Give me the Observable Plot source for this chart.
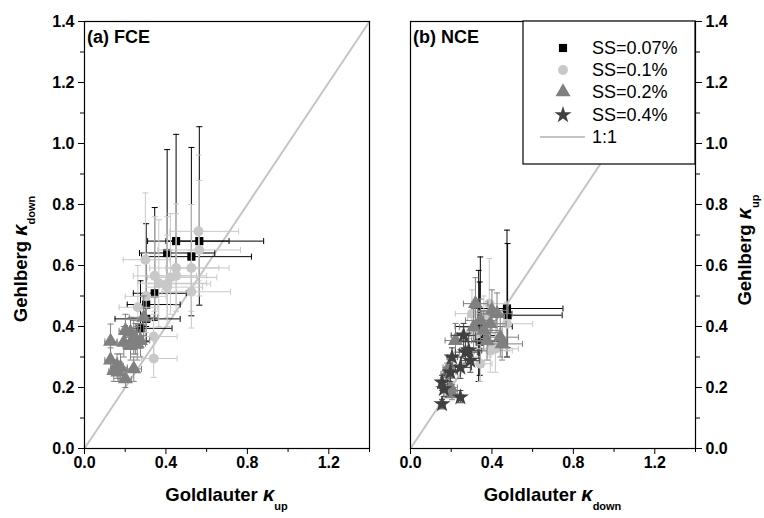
<!DOCTYPE html>
<html>
<head>
<meta charset="utf-8">
<script src="https://cdn.jsdelivr.net/npm/d3@7"></script>
<script src="https://cdn.jsdelivr.net/npm/@observablehq/plot@0.6"></script>
<style>
  html, body { margin: 0; padding: 0; background: #fff; }
  #wrap { position: relative; width: 764px; height: 518px; overflow: hidden; background: #fff; }
  #wrap svg { position: absolute; top: 0; overflow: visible; }
</style>
</head>
<body>
<div id="wrap"></div>
<script>
// ---------- data: [x, y, xLow, xHigh, yLow, yHigh] ----------
const fce_ss007 = [
  [0.45, 0.68, 0.31, 0.71, 0.60, 1.03],
  [0.564, 0.68, 0.40, 0.88, 0.47, 1.055],
  [0.406, 0.641, 0.27, 0.64, 0.55, 0.98],
  [0.525, 0.629, 0.28, 0.82, 0.435, 0.987],
  [0.345, 0.509, 0.24, 0.50, 0.42, 0.79],
  [0.303, 0.472, 0.21, 0.47, 0.40, 0.737],
  [0.303, 0.425, 0.15, 0.47, 0.35, 0.62],
  [0.275, 0.394, 0.21, 0.43, 0.33, 0.55]
];
const fce_ss01 = [
  [0.56, 0.712, 0.42, 0.757, 0.55, 0.962],
  [0.564, 0.651, 0.36, 0.766, 0.50, 0.879],
  [0.299, 0.619, 0.19, 0.42, 0.50, 0.838],
  [0.45, 0.592, 0.32, 0.71, 0.45, 0.802],
  [0.525, 0.592, 0.40, 0.66, 0.45, 0.80],
  [0.345, 0.566, 0.24, 0.55, 0.45, 0.76],
  [0.365, 0.542, 0.26, 0.60, 0.40, 0.75],
  [0.406, 0.54, 0.30, 0.62, 0.43, 0.76],
  [0.422, 0.561, 0.31, 0.65, 0.44, 0.77],
  [0.45, 0.566, 0.33, 0.60, 0.47, 0.77],
  [0.406, 0.529, 0.30, 0.58, 0.40, 0.70],
  [0.525, 0.514, 0.38, 0.717, 0.395, 0.65],
  [0.303, 0.499, 0.20, 0.40, 0.38, 0.64],
  [0.262, 0.463, 0.17, 0.36, 0.36, 0.60],
  [0.34, 0.367, 0.25, 0.455, 0.30, 0.44],
  [0.34, 0.295, 0.28, 0.455, 0.233, 0.36]
];
const fce_ss02 = [
  [0.291, 0.43, 0.22, 0.36, 0.37, 0.50],
  [0.128, 0.351, 0.10, 0.16, 0.30, 0.408],
  [0.128, 0.29, 0.10, 0.16, 0.25, 0.33],
  [0.201, 0.386, 0.17, 0.24, 0.33, 0.44],
  [0.226, 0.381, 0.19, 0.27, 0.33, 0.43],
  [0.193, 0.348, 0.16, 0.23, 0.30, 0.40],
  [0.242, 0.364, 0.20, 0.29, 0.31, 0.42],
  [0.259, 0.343, 0.22, 0.30, 0.29, 0.40],
  [0.226, 0.337, 0.19, 0.27, 0.29, 0.38],
  [0.275, 0.354, 0.24, 0.32, 0.30, 0.41],
  [0.16, 0.271, 0.13, 0.19, 0.23, 0.31],
  [0.177, 0.266, 0.15, 0.21, 0.23, 0.31],
  [0.144, 0.255, 0.12, 0.17, 0.22, 0.29],
  [0.201, 0.228, 0.17, 0.23, 0.20, 0.26],
  [0.242, 0.261, 0.21, 0.28, 0.22, 0.30],
  [0.164, 0.25, 0.14, 0.19, 0.22, 0.28],
  [0.25, 0.359, 0.22, 0.29, 0.31, 0.41]
];
const fce_ss04 = [];

const nce_ss007 = [
  [0.474, 0.459, 0.30, 0.749, 0.30, 0.716],
  [0.477, 0.437, 0.33, 0.745, 0.33, 0.672],
  [0.343, 0.40, 0.22, 0.50, 0.266, 0.628],
  [0.335, 0.37, 0.23, 0.45, 0.22, 0.584],
  [0.34, 0.35, 0.24, 0.47, 0.24, 0.546]
];
const nce_ss01 = [
  [0.387, 0.475, 0.30, 0.48, 0.30, 0.623],
  [0.474, 0.409, 0.36, 0.60, 0.32, 0.48],
  [0.417, 0.327, 0.33, 0.53, 0.25, 0.40],
  [0.327, 0.376, 0.25, 0.42, 0.30, 0.45],
  [0.343, 0.278, 0.28, 0.40, 0.22, 0.34],
  [0.392, 0.321, 0.30, 0.50, 0.25, 0.39],
  [0.302, 0.442, 0.22, 0.40, 0.36, 0.52],
  [0.36, 0.43, 0.28, 0.46, 0.36, 0.50]
];
const nce_ss02 = [
  [0.319, 0.475, 0.26, 0.38, 0.40, 0.56],
  [0.221, 0.354, 0.17, 0.28, 0.30, 0.41],
  [0.441, 0.365, 0.36, 0.53, 0.30, 0.43],
  [0.45, 0.343, 0.38, 0.55, 0.29, 0.40],
  [0.392, 0.409, 0.32, 0.47, 0.34, 0.47],
  [0.343, 0.42, 0.27, 0.42, 0.35, 0.49],
  [0.36, 0.387, 0.29, 0.44, 0.32, 0.45],
  [0.31, 0.398, 0.24, 0.38, 0.33, 0.46],
  [0.425, 0.442, 0.35, 0.50, 0.38, 0.51],
  [0.188, 0.266, 0.16, 0.22, 0.23, 0.30],
  [0.18, 0.245, 0.15, 0.21, 0.21, 0.28],
  [0.196, 0.20, 0.17, 0.23, 0.17, 0.23],
  [0.204, 0.179, 0.18, 0.23, 0.16, 0.21],
  [0.376, 0.354, 0.30, 0.46, 0.29, 0.42],
  [0.40, 0.453, 0.33, 0.48, 0.38, 0.52]
];
const nce_ss04 = [
  [0.155, 0.146, 0.14, 0.17, 0.13, 0.16],
  [0.245, 0.168, 0.23, 0.26, 0.15, 0.19],
  [0.155, 0.217, 0.14, 0.18, 0.19, 0.24],
  [0.164, 0.195, 0.15, 0.18, 0.17, 0.22],
  [0.196, 0.25, 0.17, 0.23, 0.22, 0.28],
  [0.204, 0.299, 0.18, 0.23, 0.27, 0.33],
  [0.245, 0.266, 0.22, 0.30, 0.23, 0.30],
  [0.27, 0.316, 0.22, 0.33, 0.28, 0.36],
  [0.286, 0.321, 0.24, 0.35, 0.28, 0.37],
  [0.261, 0.371, 0.20, 0.32, 0.33, 0.41],
  [0.294, 0.288, 0.25, 0.34, 0.25, 0.33]
];

const seriesLabels = ["SS=0.07%", "SS=0.1%", "SS=0.2%", "SS=0.4%"];
const lineLabel = "1:1";
const oneToOne = [0, 1.4];
const xMajor = [0, 0.4, 0.8, 1.2];
const xMinor = [0.2, 0.6, 1.0, 1.4];
const yMajor = [0, 0.2, 0.4, 0.6, 0.8, 1.0, 1.2, 1.4];
const yMinor = [0.1, 0.3, 0.5, 0.7, 0.9, 1.1, 1.3];

// ---------- styles ----------
const styles = [
  {symbol: "square",   fill: "#000000", bar: "#000000", r: 4.6},
  {symbol: "circle",   fill: "#c8c8c8", bar: "#c8c8c8", r: 5},
  {symbol: "triangle", fill: "#808080", bar: "#808080", r: 5.6},
  {symbol: "star",     fill: "#404040", bar: "#404040", r: 5.4}
];
const FONT = "'Liberation Sans', Arial, Helvetica, sans-serif";

const hcap = {draw(ctx, size) { const r = Math.sqrt(size / Math.PI); ctx.moveTo(-r, 0); ctx.lineTo(r, 0); }};
const vcap = {draw(ctx, size) { const r = Math.sqrt(size / Math.PI); ctx.moveTo(0, -r); ctx.lineTo(0, r); }};

const toRows = arr => arr.map(([x, y, xlo, xhi, ylo, yhi]) => ({x, y, xlo, xhi, ylo, yhi}));

function seriesMarks(arr, s) {
  const d = toRows(arr);
  return [
    Plot.ruleY(d, {y: "y", x1: "xlo", x2: "xhi", stroke: s.bar, strokeWidth: 1}),
    Plot.ruleX(d, {x: "x", y1: "ylo", y2: "yhi", stroke: s.bar, strokeWidth: 1}),
    Plot.dot(d, {x: "xlo", y: "y", symbol: vcap, r: 3, stroke: s.bar, fill: "none", strokeWidth: 1}),
    Plot.dot(d, {x: "xhi", y: "y", symbol: vcap, r: 3, stroke: s.bar, fill: "none", strokeWidth: 1}),
    Plot.dot(d, {x: "x", y: "ylo", symbol: hcap, r: 3, stroke: s.bar, fill: "none", strokeWidth: 1}),
    Plot.dot(d, {x: "x", y: "yhi", symbol: hcap, r: 3, stroke: s.bar, fill: "none", strokeWidth: 1}),
    Plot.dot(d, {x: "x", y: "y", symbol: s.symbol, r: s.r, fill: s.fill, stroke: "none"})
  ];
}

function panel(seriesData, yAnchor, margins, width) {
  return Plot.plot({
    width, height: 518,
    marginLeft: margins[0], marginRight: margins[1], marginTop: margins[2], marginBottom: margins[3],
    style: {fontFamily: FONT, fontSize: "16px", fontWeight: "bold", color: "black", background: "transparent", overflow: "visible"},
    x: {domain: [0, 1.4]},
    y: {domain: [0, 1.4]},
    marks: [
      Plot.line(oneToOne, {x: d => d, y: d => d, stroke: "#c4c4c4", strokeWidth: 2}),
      ...seriesData.flatMap((arr, i) => seriesMarks(arr, styles[i])),
      Plot.frame({stroke: "black", strokeWidth: 1.2}),
      Plot.axisX({ticks: xMajor, tickFormat: d3.format(".1f"), tickSize: 6, tickPadding: 2, label: null, fontSize: 16, fontWeight: "bold"}),
      Plot.axisX({ticks: xMinor, tickFormat: () => "", tickSize: 4, label: null}),
      Plot.axisY({anchor: yAnchor, ticks: yMajor, tickFormat: d3.format(".1f"), tickSize: 6, tickPadding: 4, label: null, fontSize: 16, fontWeight: "bold"}),
      Plot.axisY({anchor: yAnchor, ticks: yMinor, tickFormat: () => "", tickSize: 4, label: null})
    ]
  });
}

const wrap = document.getElementById("wrap");

const svgA = panel([fce_ss007, fce_ss01, fce_ss02, fce_ss04], "left", [84, 21, 21, 70], 390);
svgA.style.left = "0px";
wrap.appendChild(svgA);

const svgB = panel([nce_ss007, nce_ss01, nce_ss02, nce_ss04], "right", [20, 69, 21, 70], 374);
svgB.style.left = "390px";
wrap.appendChild(svgB);

function addTitle(svg, x, y, main, sub, rotate, subDy) {
  const t = d3.select(svg).append("text")
    .attr("text-anchor", "middle")
    .attr("transform", `translate(${x},${y})` + (rotate ? " rotate(-90)" : ""))
    .attr("font-family", FONT).attr("font-weight", "bold").attr("font-size", 18.5).attr("fill", "black");
  t.append("tspan").text(main + " ");
  t.append("tspan").attr("font-style", "italic").attr("font-size", 20).text("κ");
  t.append("tspan").attr("font-size", 11).attr("dy", subDy).text(sub);
}

function addPanelLabel(svg, x, y, text) {
  d3.select(svg).append("text").attr("x", x).attr("y", y).attr("text-anchor", "start")
    .attr("font-family", FONT).attr("font-weight", "bold").attr("font-size", 18).attr("fill", "black").text(text);
}

addTitle(svgA, 226.5, 501, "Goldlauter", "up", false, 9);
addTitle(svgA, 27, 259, "Gehlberg", "down", true, 8);
addPanelLabel(svgA, 87, 43, "(a) FCE");

addTitle(svgB, 162.5, 501, "Goldlauter", "down", false, 9);
addTitle(svgB, 361, 250, "Gehlberg", "up", true, 8);
addPanelLabel(svgB, 23, 43, "(b) NCE");

// legend
const lg = d3.select(svgB).append("g").attr("font-family", FONT).attr("font-size", 18)
  .attr("font-weight", "normal").attr("text-anchor", "start");
lg.append("rect").attr("x", 133).attr("y", 21).attr("width", 172).attr("height", 143)
  .attr("fill", "white").attr("stroke", "black").attr("stroke-width", 1.2);
const rowY = [48, 70, 92, 115];
const symMap = {square: d3.symbolSquare, circle: d3.symbolCircle, triangle: d3.symbolTriangle, star: d3.symbolStar};
styles.forEach((s, i) => {
  lg.append("path").attr("transform", `translate(173,${rowY[i]})`)
    .attr("d", d3.symbol(symMap[s.symbol], s.r * s.r * Math.PI)()).attr("fill", s.fill);
  lg.append("text").attr("x", 202).attr("y", rowY[i]).attr("dy", "0.36em").attr("fill", "black").text(seriesLabels[i]);
});
lg.append("line").attr("x1", 150).attr("x2", 195).attr("y1", 137).attr("y2", 137).attr("stroke", "#c4c4c4").attr("stroke-width", 2);
lg.append("text").attr("x", 202).attr("y", 137).attr("dy", "0.36em").attr("fill", "black").text(lineLabel);
</script>
</body>
</html>
